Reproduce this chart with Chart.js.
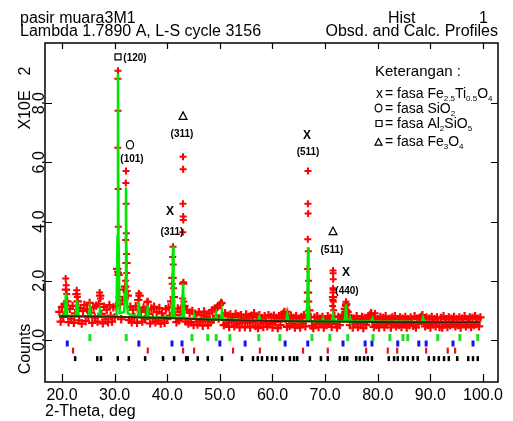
<!DOCTYPE html>
<html>
<head>
<meta charset="utf-8">
<script src="https://cdn.jsdelivr.net/npm/chart.js@4.4.1/dist/chart.umd.min.js"></script>
<style>
html, body { margin: 0; padding: 0; background: #fff; }
#wrap { width: 513px; height: 421px; }
</style>
</head>
<body>
<div id="wrap"><canvas id="profile" width="513" height="421"></canvas></div>
<script>
// observed profile (x100 counts), 2-theta from 19.5 deg in 0.25 deg steps
const obsStart = 19.5
const obsStep = 0.25
const obsCounts = [
  0.95,0.62,1.12,0.78,1.2,1.7,1.3,0.6,1.05,0.72,1.15,0.58,0.9,1.55,1.3,0.66,1.08,0.55,0.98,1.18,
  0.64,1.04,0.8,1.25,0.92,0.58,1.1,0.75,1.16,0.62,1.22,1.5,0.88,0.56,1.12,0.7,1.02,0.6,1.18,0.82,
  0.62,1.1,0.76,1.15,2.4,2.2,1.2,0.7,1.35,1.7,1.8,2.6,1.5,0.68,1.12,0.6,1.02,0.78,1.14,0.58,
  1.35,1.5,0.95,0.62,1.1,0.7,1.02,1.28,0.88,0.56,1.06,0.74,1.12,0.6,0.94,0.66,1.08,0.55,0.9,0.76,
  0.58,1.04,0.7,1.1,0.82,1.3,2.1,1.45,0.85,0.6,1.06,0.66,0.95,1.1,1.9,1.15,0.62,1.02,0.55,0.92,
  0.6,0.98,0.5,0.88,0.7,0.52,0.94,0.62,0.84,0.48,0.96,0.66,0.78,0.5,0.9,0.6,1.0,0.68,1.05,0.82,
  1.1,0.72,1.18,1.25,0.8,0.5,0.9,0.58,0.82,0.44,0.86,0.62,0.76,0.46,0.88,0.54,0.8,0.42,0.84,0.6,
  0.74,0.44,0.86,0.58,0.78,0.42,0.82,0.6,0.9,0.48,0.76,0.4,0.84,0.56,0.72,0.44,0.8,0.62,0.46,0.84,
  0.54,0.78,0.42,0.82,0.6,0.74,0.4,0.8,0.5,0.72,0.88,0.95,0.7,0.44,0.78,0.48,0.82,0.56,0.74,0.42,
  0.8,0.5,0.72,0.42,0.78,0.56,0.84,0.46,0.75,1.6,1.0,0.78,0.48,0.4,0.76,0.54,0.8,0.44,0.72,0.58,
  0.78,0.42,0.7,0.5,0.8,0.56,0.74,0.44,1.45,0.8,0.54,0.42,0.78,0.5,0.72,0.82,0.85,1.05,1.2,0.95,
  0.8,0.5,0.74,0.42,0.72,0.54,0.8,0.44,0.7,0.56,0.78,0.4,0.74,0.5,0.66,0.76,0.84,0.9,0.6,0.44,
  0.76,0.5,0.7,0.42,0.78,0.56,0.74,0.44,0.8,0.52,0.68,0.72,0.42,0.76,0.54,0.8,0.46,0.7,0.5,0.76,
  0.44,0.72,0.54,0.78,0.42,0.7,0.5,0.76,0.58,0.48,0.8,0.42,0.72,0.54,0.74,0.78,0.84,0.58,0.46,0.76,
  0.5,0.72,0.42,0.78,0.54,0.7,0.46,0.76,0.58,0.44,0.74,0.42,0.8,0.52,0.7,0.44,0.76,0.5,0.72,0.54,
  0.78,0.46,0.7,0.5,0.76,0.42,0.72,0.56,0.8,0.46,0.7,0.52,0.76,0.44,0.74,0.5,0.8,0.54,0.72,0.46,0.76
]

// extra observed points on the sharp reflections
const peakTheta = [
  20.7,20.8,20.9,22.8,22.9,27.15,27.3,
  30.56,30.6,30.62,30.64,30.66,30.68,30.7,30.74,30.85,
  32.06,32.1,32.13,32.16,32.19,32.22,32.26,32.3,32.4,
  34.6,36.3,
  40.95,41.04,41.1,41.15,41.2,
  42.92,42.96,42.98,43.0,43.01,43.03,43.05,43.08,43.15,
  49.1,50.4,62.8,
  66.6,66.66,66.7,66.73,66.75,66.77,66.8,66.84,66.9,
  71.42,71.45,71.47,71.49,71.5,71.52,71.54,71.56,71.58,71.62,
  73.8,73.9,73.97,74.05,74.15,79.5
]
const peakCounts = [
  2.08,1.85,1.55,1.68,1.45,1.6,1.4,
  2.3,6.49,8.82,9.09,7.74,5.1,3.82,2.26,1.45,
  2.0,3.38,5.3,5.71,4.6,3.6,2.9,2.26,1.65,
  1.58,1.3,
  1.9,2.8,3.15,2.55,1.75,
  1.4,3.64,4.6,6.19,5.77,4.17,4.05,1.95,1.3,
  1.08,1.24,0.95,
  1.3,2.4,3.4,4.6,5.71,4.27,3.0,2.0,1.3,
  1.15,1.35,1.6,1.75,2.35,2.25,2.05,1.7,1.3,1.0,
  0.95,1.15,1.29,1.2,1.0,0.9
]

// calculated profile
const calcTheta = [
  19.5,20.5,20.76,21.0,22.6,22.85,23.1,25.1,25.3,25.5,27.0,27.2,27.4,
  30.35,30.55,30.64,30.73,30.95,31.8,32.0,32.16,32.3,32.5,
  34.4,34.6,34.8,36.1,36.3,36.5,40.85,41.0,41.1,41.2,41.4,42.8,43.0,43.2,
  45.0,45.1,45.3,49.1,49.3,49.5,50.2,50.4,50.6,57.3,57.5,57.7,62.6,62.8,63.0,
  66.5,66.65,66.75,66.85,67.0,69.4,69.6,69.8,71.3,71.5,71.7,73.75,73.97,74.2,
  74.6,74.75,74.9,78.8,79.0,79.2,88.4,88.6,88.8,99.5
]
const calcCounts = [
  0.82,0.82,1.58,0.82,0.81,1.34,0.81,0.8,1.07,0.8,0.8,1.0,0.8,
  0.79,3.5,9.0,3.5,0.9,0.95,1.6,5.15,1.6,0.9,
  0.78,1.3,0.78,0.77,1.15,0.77,0.76,1.6,3.16,1.6,0.76,0.75,1.9,0.75,
  0.72,0.85,0.72,0.7,0.88,0.7,0.69,0.98,0.69,0.66,0.78,0.66,0.64,0.88,0.64,
  0.64,1.5,3.13,1.5,0.64,0.63,0.72,0.63,0.63,0.85,0.63,0.63,1.2,0.63,
  0.62,0.72,0.62,0.62,0.72,0.62,0.61,0.75,0.61,0.6
]

// background
const bgTheta = [19.5,25,30,35,40,45,50,55,60,70,80,90,99.5]
const bgCounts = [0.8,0.79,0.78,0.76,0.74,0.71,0.68,0.66,0.64,0.62,0.61,0.6,0.6]

// reflection positions, one row per phase
const greenTicks = [25.3,32.2,44.7,47.7,49.3,51.9,57.4,61.4,67.5,70.9,74.3,79.1,82.3,84.8,85.7,91.4,95.6,99.0]
const blueTicks = [21.0,34.6,40.9,42.8,50.0,54.8,62.4,66.7,73.4,77.6,78.9,83.8,87.8,89.2,94.3,98.1]
const redTicks = [22.1,36.3,43.0,45.1,52.5,57.6,65.8,70.5,77.8,81.9,83.7,89.2,93.3,94.7]
const blackTicks = [
  22.5,26.7,27.4,30.6,32.7,35.8,39.2,41.3,43.6,43.9,45.8,47.7,50.4,54.2,
  56.3,57.2,58.0,59.0,59.9,60.7,62.0,63.3,64.1,64.7,67.1,69.2,70.5,72.8,73.6,74.2,
  75.9,76.6,77.4,78.1,78.9,82.1,83.1,83.8,84.8,85.7,86.7,87.6,89.7,90.7,91.6,92.6,93.5,
  95.1,97.2,98.1,99.0
]

const xTicks = [20,30,40,50,60,70,80,90,100]
const yTicks = [0,2,4,6,8]

const peakNotes = [
  { sym: 'square', st: 30.64, sy: 9.56, hkl: '(120)', ht: 33.87, hy: 9.53 },
  { sym: 'circle', st: 32.92, sy: 6.59, hkl: '(101)', ht: 33.3, hy: 6.11 },
  { sym: 'triangle', st: 43.0, sy: 7.57, hkl: '(311)', ht: 42.8, hy: 6.96 },
  { sym: 'X', st: 40.52, sy: 4.32, hkl: '(311)', ht: 40.9, hy: 3.65 },
  { sym: 'X', st: 66.56, sy: 6.89, hkl: '(511)', ht: 66.75, hy: 6.35 },
  { sym: 'triangle', st: 71.5, sy: 3.68, hkl: '(511)', ht: 71.3, hy: 3.04 },
  { sym: 'X', st: 73.97, sy: 2.26, hkl: '(440)', ht: 74.16, hy: 1.66 }
]

const FONT = '"Liberation Sans", Arial, sans-serif'

function drawSym(ctx, sym, x, y, s) {
  ctx.beginPath()
  if (sym == 'square') {
    ctx.rect(x - s, y - s, 2 * s, 2 * s)
  } else if (sym == 'circle') {
    ctx.ellipse(x, y, s, s * 1.15, 0, 0, Math.PI * 2)
  } else if (sym == 'triangle') {
    ctx.moveTo(x, y - s * 1.1)
    ctx.lineTo(x + s * 1.1, y + s)
    ctx.lineTo(x - s * 1.1, y + s)
    ctx.closePath()
  }
  ctx.stroke()
}

function rich(ctx, x, y, parts) {
  parts.forEach(p => {
    ctx.font = p[1] ? '8px ' + FONT : '14px ' + FONT
    ctx.fillText(p[0], x, p[1] ? y + 3 : y)
    x += ctx.measureText(p[0]).width
  })
}

const frame = {
  id: 'frame',
  afterDatasetsDraw(chart) {
    const ctx = chart.ctx
    const a = chart.chartArea
    const xs = chart.scales.x
    const ys = chart.scales.y
    ctx.save()
    ctx.strokeStyle = '#000'
    ctx.fillStyle = '#000'

    ctx.lineWidth = 1.5
    ctx.strokeRect(a.left, a.top, a.right - a.left, a.bottom - a.top)
    ctx.lineWidth = 1.2
    xTicks.forEach(v => {
      const x = Math.round(xs.getPixelForValue(v)) + 0.5
      ctx.beginPath()
      ctx.moveTo(x, a.top); ctx.lineTo(x, a.top + 6)
      ctx.moveTo(x, a.bottom); ctx.lineTo(x, a.bottom - 8)
      ctx.stroke()
    })
    yTicks.forEach(v => {
      const y = Math.round(ys.getPixelForValue(v)) + 0.5
      ctx.beginPath()
      ctx.moveTo(a.left, y); ctx.lineTo(a.left + 7, y)
      ctx.moveTo(a.right, y); ctx.lineTo(a.right - 7, y)
      ctx.stroke()
    })

    // x tick labels and title
    ctx.font = '16px ' + FONT
    ctx.textAlign = 'center'
    ctx.textBaseline = 'alphabetic'
    xTicks.forEach(v => ctx.fillText(v.toFixed(1), xs.getPixelForValue(v), 400))
    ctx.textAlign = 'left'
    ctx.fillText('2-Theta, deg', 45, 416)

    // y tick labels, rotated
    yTicks.forEach(v => {
      ctx.save()
      ctx.translate(44, ys.getPixelForValue(v))
      ctx.rotate(-Math.PI / 2)
      ctx.textAlign = 'center'
      ctx.fillText(v.toFixed(1), 0, 0)
      ctx.restore()
    })
    ctx.save()
    ctx.translate(29.5, 349)
    ctx.rotate(-Math.PI / 2)
    ctx.textAlign = 'center'
    ctx.fillText('Counts', 0, 0)
    ctx.restore()
    ctx.save()
    ctx.translate(30, 110)
    ctx.rotate(-Math.PI / 2)
    ctx.textAlign = 'center'
    ctx.fillText('X10E', 0, 0)
    ctx.fillText('2', 39, 0)
    ctx.restore()

    // header
    ctx.textAlign = 'left'
    ctx.fillText('pasir muara3M1', 20, 22.5)
    ctx.fillText('Lambda 1.7890 A, L-S cycle 3156', 20, 35.5)
    ctx.fillText('Hist', 388, 22.5)
    ctx.textAlign = 'right'
    ctx.fillText('1', 488, 22.5)
    ctx.fillText('Obsd. and Calc. Profiles', 498, 35.5)

    // peak annotations
    ctx.lineWidth = 1.2
    ctx.textAlign = 'center'
    ctx.textBaseline = 'middle'
    peakNotes.forEach(n => {
      const sx = xs.getPixelForValue(n.st), sy = ys.getPixelForValue(n.sy)
      if (n.sym == 'X') {
        ctx.font = 'bold 12px ' + FONT
        ctx.fillText('X', sx, sy)
      } else {
        drawSym(ctx, n.sym, sx, sy, n.sym == 'square' ? 3 : 3.6)
      }
      ctx.font = 'bold 10px ' + FONT
      ctx.fillText(n.hkl, xs.getPixelForValue(n.ht), ys.getPixelForValue(n.hy))
    })

    // legend
    ctx.textAlign = 'left'
    ctx.textBaseline = 'alphabetic'
    ctx.font = '15px ' + FONT
    ctx.fillText('Keterangan :', 375, 76)
    ctx.font = '14px ' + FONT
    ctx.fillText('x', 376, 97.5)
    rich(ctx, 385, 97.5, [['= fasa Fe'], ['2.5', 1], ['Ti'], ['0.5', 1], ['O'], ['4', 1]])
    drawSym(ctx, 'circle', 378.5, 108, 3.4)
    rich(ctx, 385, 112.5, [['= fasa SiO'], ['2', 1]])
    drawSym(ctx, 'square', 379, 123.5, 3)
    rich(ctx, 385, 128, [['= fasa Al'], ['2', 1], ['SiO'], ['5', 1]])
    drawSym(ctx, 'triangle', 378.5, 142, 3.2)
    rich(ctx, 385, 146, [['= fasa Fe'], ['3', 1], ['O'], ['4', 1]])
    ctx.restore()
  }
}

const obsPoints = obsCounts.map((c, i) => ({ x: obsStart + i * obsStep, y: c }))
const peakPoints = peakTheta.map((t, i) => ({ x: t, y: peakCounts[i] }))
const calcPoints = calcTheta.map((t, i) => ({ x: t, y: calcCounts[i] }))
const bgPoints = bgTheta.map((t, i) => ({ x: t, y: bgCounts[i] }))

function tickRow(list, level, color, r, w) {
  return {
    data: list.map(t => ({ x: t, y: level })),
    pointStyle: 'line', rotation: 90, pointRadius: r,
    borderColor: color, borderWidth: w, showLine: false, order: 4
  }
}

const chart = new Chart(document.getElementById('profile'), {
  type: 'scatter',
  data: {
    datasets: [
      { data: bgPoints, showLine: true, borderColor: '#3a2410', borderWidth: 2, pointRadius: 0, order: 0 },
      { data: calcPoints, showLine: true, borderColor: '#00e600', borderWidth: 2.5, pointRadius: 0, order: 1 },
      { data: peakPoints, pointStyle: 'cross', pointRadius: 3.5, borderColor: '#ff0000', borderWidth: 2, order: 2 },
      { data: obsPoints, pointStyle: 'cross', pointRadius: 4.2, borderColor: '#ff0000', borderWidth: 2.2, order: 3 },
      tickRow(greenTicks, 0.08, '#22dd22', 3.5, 3),
      tickRow(blueTicks, -0.12, '#1414e6', 3, 3),
      tickRow(redTicks, -0.36, '#e61414', 3, 2.2),
      tickRow(blackTicks, -0.63, '#000000', 2.5, 2.5)
    ]
  },
  options: {
    responsive: false,
    animation: false,
    layout: { padding: { left: 45, right: 15, top: 43, bottom: 39 } },
    plugins: { legend: { display: false }, tooltip: { enabled: false } },
    scales: {
      x: { type: 'linear', min: 16.77, max: 102.85, display: false },
      y: { min: -1.42, max: 10.03, display: false }
    }
  },
  plugins: [frame]
})
</script>
</body>
</html>
